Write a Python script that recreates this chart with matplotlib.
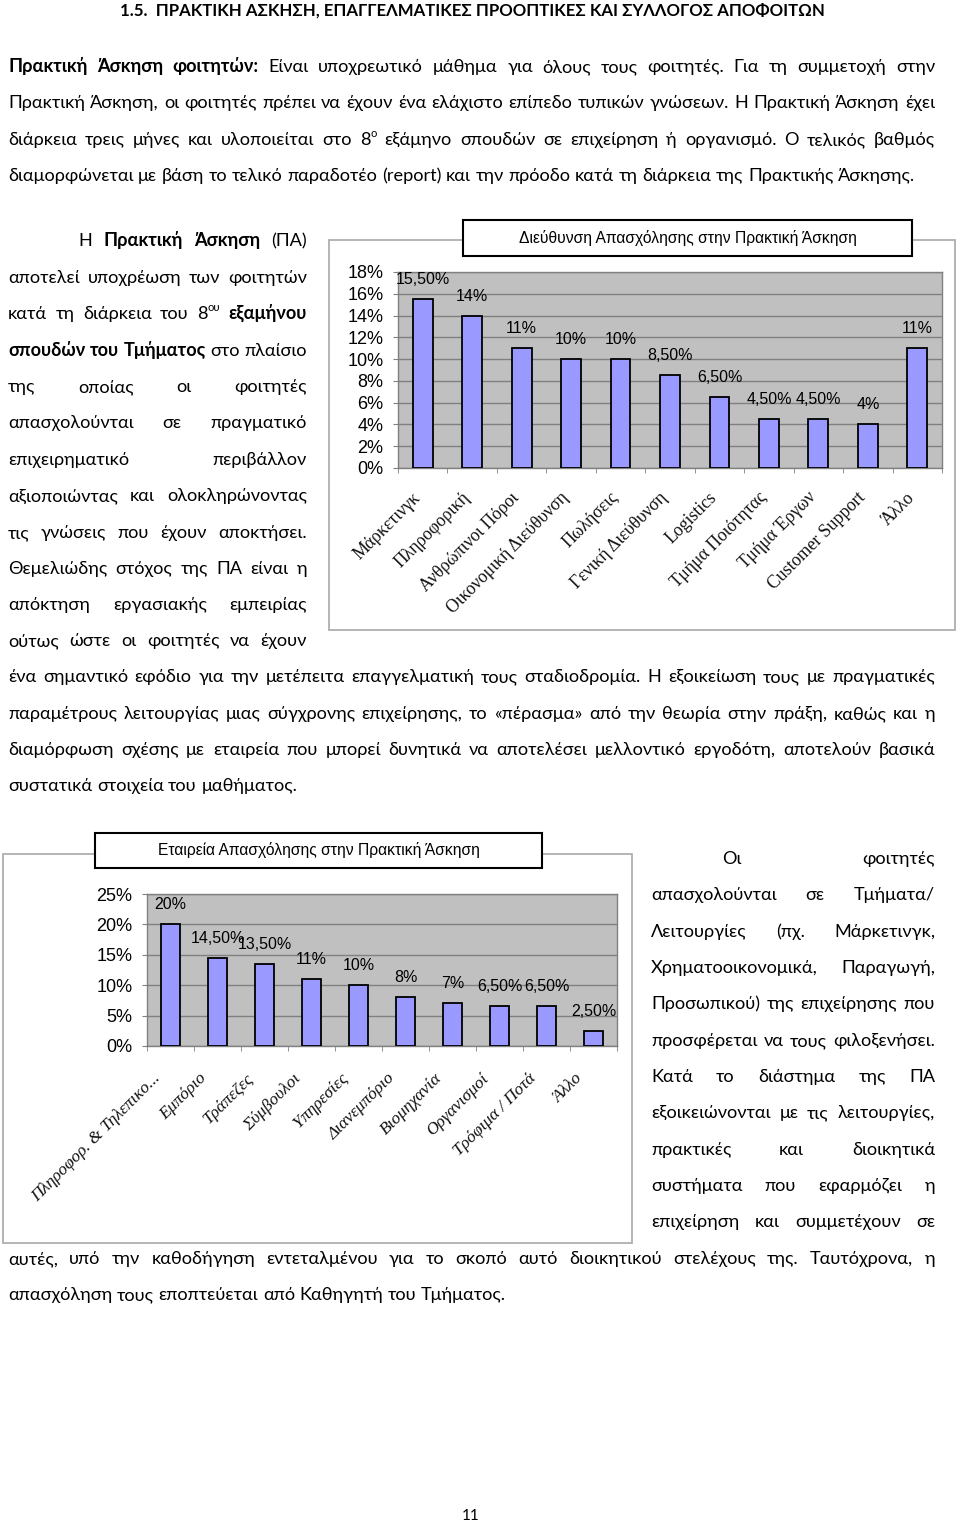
import re
import numpy as np
import matplotlib
matplotlib.use('Agg')
import matplotlib.pyplot as plt
from matplotlib.patches import Rectangle
from matplotlib import transforms, font_manager
from matplotlib.ft2font import FT2Font

W, H = 960, 1524

# -------------------
#    Chart data
# -------------------
dept_names = ['Μάρκετινγκ', 'Πληροφορική', 'Ανθρώπινοι Πόροι', 'Οικονομική Διεύθυνση',
              'Πωλήσεις', 'Γενική Διεύθυνση', 'Logistics', 'Τμήμα Ποιότητας',
              'Τμήμα Έργων', 'Customer Support', 'Άλλο']
dept_share = [15.5, 14, 11, 10, 10, 8.5, 6.5, 4.5, 4.5, 4, 11]
dept_title = 'Διεύθυνση Απασχόλησης στην Πρακτική Άσκηση'

company_names = ['Πληροφορ. & Τηλεπικο...', 'Εμπόριο', 'Τράπεζες', 'Σύμβουλοι',
                 'Υπηρεσίες', 'Διανεμπόριο', 'Βιομηχανία', 'Οργανισμοί',
                 'Τρόφιμα / Ποτά', 'Άλλο']
company_share = [20, 14.5, 13.5, 11, 10, 8, 7, 6.5, 6.5, 2.5]
company_title = 'Εταιρεία Απασχόλησης στην Πρακτική Άσκηση'

# -------------------
#    Page text
# -------------------
heading = '1.5.  ΠΡΑΚΤΙΚΗ ΑΣΚΗΣΗ, ΕΠΑΓΓΕΛΜΑΤΙΚΕΣ ΠΡΟΟΠΤΙΚΕΣ ΚΑΙ ΣΥΛΛΟΓΟΣ ΑΠΟΦΟΙΤΩΝ'

para1 = [
    '**Πρακτική Άσκηση φοιτητών:** Είναι υποχρεωτικό μάθημα για όλους τους φοιτητές. Για τη συμμετοχή στην',
    'Πρακτική Άσκηση, οι φοιτητές πρέπει να έχουν ένα ελάχιστο επίπεδο τυπικών γνώσεων. Η Πρακτική Άσκηση έχει',
    'διάρκεια τρεις μήνες και υλοποιείται στο 8^{ο} εξάμηνο σπουδών σε επιχείρηση ή οργανισμό. Ο τελικός βαθμός',
    'διαμορφώνεται με βάση το τελικό παραδοτέο (report) και την πρόοδο κατά τη διάρκεια της Πρακτικής Άσκησης.',
]

para2_left = [
    'Η **Πρακτική Άσκηση** (ΠΑ)',
    'αποτελεί υποχρέωση των φοιτητών',
    'κατά τη διάρκεια του 8^{ου} **εξαμήνου**',
    '**σπουδών του Τμήματος** στο πλαίσιο',
    'της οποίας οι φοιτητές',
    'απασχολούνται σε πραγματικό',
    'επιχειρηματικό περιβάλλον',
    'αξιοποιώντας και ολοκληρώνοντας',
    'τις γνώσεις που έχουν αποκτήσει.',
    'Θεμελιώδης στόχος της ΠΑ είναι η',
    'απόκτηση εργασιακής εμπειρίας',
    'ούτως ώστε οι φοιτητές να έχουν',
]
para2_full = [
    'ένα σημαντικό εφόδιο για την μετέπειτα επαγγελματική τους σταδιοδρομία. Η εξοικείωση τους με πραγματικές',
    'παραμέτρους λειτουργίας μιας σύγχρονης επιχείρησης, το «πέρασμα» από την θεωρία στην πράξη, καθώς και η',
    'διαμόρφωση σχέσης με εταιρεία που μπορεί δυνητικά να αποτελέσει μελλοντικό εργοδότη, αποτελούν βασικά',
    'συστατικά στοιχεία του μαθήματος.',
]

para3_right = [
    'Οι φοιτητές',
    'απασχολούνται σε Τμήματα/',
    'Λειτουργίες (πχ. Μάρκετινγκ,',
    'Χρηματοοικονομικά, Παραγωγή,',
    'Προσωπικού) της επιχείρησης που',
    'προσφέρεται να τους φιλοξενήσει.',
    'Κατά το διάστημα της ΠΑ',
    'εξοικειώνονται με τις λειτουργίες,',
    'πρακτικές και διοικητικά',
    'συστήματα που εφαρμόζει η',
    'επιχείρηση και συμμετέχουν σε',
]
para3_full = [
    'αυτές, υπό την καθοδήγηση εντεταλμένου για το σκοπό αυτό διοικητικού στελέχους της. Ταυτόχρονα, η',
    'απασχόληση τους εποπτεύεται από Καθηγητή του Τμήματος.',
]


# -------------------
#    Fonts
# -------------------
def has_greek(name):
    try:
        path = font_manager.findfont(name, fallback_to_default=False)
        return FT2Font(path).get_char_index(ord('λ')) != 0
    except Exception:
        return False

body_font = 'Lato' if has_greek('Lato') else 'Open Sans'
chart_font = 'Liberation Sans'
label_font = 'Liberation Serif'

fig = plt.figure(figsize=(W / 100, H / 100), dpi=100)
fig.patch.set_facecolor('white')
renderer = fig.canvas.get_renderer()


def text_width(txt, size, bold=False, family=None):
    t = fig.text(0, 0, txt, fontsize=size, fontweight='bold' if bold else 'normal',
                 family=family or body_font)
    w = t.get_window_extent(renderer).width
    t.remove()
    return w

# fit the body size so the last line of paragraph 1 is ~910 px wide
body_size = 10 * 910 / text_width(para1[3], 10)
head_size = 10 * 700 / text_width(heading, 10, bold=True)
space_w = text_width('a a', body_size) - text_width('aa', body_size)


def parse(line):
    words, cur, bold = [], [], False
    for seg in re.split(r'(\*\*)', line):
        if seg == '**':
            bold = not bold
            continue
        for i, p in enumerate(seg.split(' ')):
            if i > 0 and cur:
                words.append(cur)
                cur = []
            for j, sp in enumerate(re.split(r'\^\{(.*?)\}', p)):
                if sp:
                    cur.append((sp, bold, j % 2 == 1))
    if cur:
        words.append(cur)
    return words


def run_w(run):
    txt, bold, sup = run
    return text_width(txt, body_size * (0.62 if sup else 1), bold)


def draw_line(line, y, x0, x1, justify=True):
    words = parse(line)
    widths = [sum(run_w(r) for r in wd) for wd in words]
    if justify and len(words) > 1:
        gap = (x1 - x0 - sum(widths)) / (len(words) - 1)
    else:
        gap = space_w
    x = x0
    base = y + 6
    for wd, ww in zip(words, widths):
        xx = x
        for r in wd:
            txt, bold, sup = r
            size = body_size * (0.62 if sup else 1)
            yy = base - (8 if sup else 0)
            fig.text(xx / W, 1 - yy / H, txt, fontsize=size, family=body_font,
                     fontweight='bold' if bold else 'normal', va='baseline', ha='left')
            xx += run_w(r)
        x += ww + gap


def draw_block(lines, ys, x0, x1, first_indent=None, last_plain=False):
    for k, (ln, y) in enumerate(zip(lines, ys)):
        left = first_indent if (k == 0 and first_indent is not None) else x0
        just = not (last_plain and k == len(lines) - 1)
        draw_line(ln, y, left, x1, justify=just)


# heading
fig.text(472 / W, 1 - 16 / H, heading, fontsize=head_size, fontweight='bold',
         family=body_font, ha='center', va='baseline')

draw_block(para1, [66, 102, 139, 175], 8, 935, last_plain=True)
draw_block(para2_left, [240, 277, 313, 350, 386, 422, 459, 495, 532, 568, 604, 640],
           8, 307, first_indent=78)
draw_block(para2_full, [676, 713, 749, 785], 8, 935, last_plain=True)
draw_block(para3_right, [858, 894, 931, 967, 1003, 1040, 1076, 1112, 1149, 1185, 1221],
           651, 935, first_indent=722)
draw_block(para3_full, [1258, 1294], 8, 935, last_plain=True)

fig.text(471 / W, 1 - 1520 / H, '11', fontsize=body_size * 0.85, family=body_font,
         ha='center', va='baseline')


# -------------------
#    Charts
# -------------------
def fmt_pct(v):
    if float(v).is_integer():
        return f'{int(v)}%'
    return f'{v:.2f}%'.replace('.', ',')


def px_rect(l, t, r, b):
    return [l / W, 1 - b / H, (r - l) / W, (b - t) / H]


def draw_chart(plot, frame, tbox, title, title_w, names, shares, ymax, ystep,
               italic, dx, dy, lab_size):
    l, t, r, b = frame
    fig.add_artist(Rectangle((l / W, 1 - b / H), (r - l) / W, (b - t) / H,
                             transform=fig.transFigure, fill=False,
                             ec='#a8a8a8', lw=1.2, zorder=0))
    l, t, r, b = tbox
    fig.add_artist(Rectangle((l / W, 1 - b / H), (r - l) / W, (b - t) / H,
                             transform=fig.transFigure, fc='white',
                             ec='black', lw=1.5, zorder=1))
    tsize = 10 * title_w / text_width(title, 10, family=chart_font)
    fig.text((l + r) / 2 / W, 1 - (t + b) / 2 / H, title, fontsize=tsize,
             family=chart_font, ha='center', va='center', zorder=2)

    ax = fig.add_axes(px_rect(*plot))
    x = np.arange(len(names))
    ax.bar(x, shares, width=0.4, color='#9999ff', edgecolor='black', lw=1.3, zorder=3)
    ax.set_xlim(-0.5, len(names) - 0.5)
    ax.set_ylim(0, ymax)
    ax.set_facecolor('#c0c0c0')
    ax.set_axisbelow(True)
    ax.yaxis.grid(True, color='#808080', lw=1)
    for s in ax.spines.values():
        s.set_color('#808080')
        s.set_linewidth(1)

    yt = np.arange(0, ymax + ystep / 2, ystep)
    ax.set_yticks(yt)
    ax.set_yticklabels([f'{int(v)}%' for v in yt], family=chart_font, fontsize=13)
    ax.tick_params(axis='y', length=3.6, color='#808080', pad=7)

    ax.set_xticks(x)
    ax.set_xticklabels(names, rotation=45, ha='right', va='center',
                       rotation_mode='anchor', family=label_font, fontsize=lab_size,
                       style='italic' if italic else 'normal', color='#111111')
    ax.set_xticks(np.arange(-0.5, len(names)), minor=True)
    ax.tick_params(axis='x', which='major', length=0, pad=0)
    ax.tick_params(axis='x', which='minor', length=3.6, color='#808080')
    off = transforms.ScaledTranslation(dx / 100, -dy / 100, fig.dpi_scale_trans)
    for lbl in ax.get_xticklabels():
        lbl.set_transform(lbl.get_transform() + off)

    for xi, v in zip(x, shares):
        ax.annotate(fmt_pct(v), (xi, v), xytext=(0, 12), textcoords='offset pixels',
                    ha='center', va='bottom', family=chart_font, fontsize=11.5,
                    zorder=4, annotation_clip=False)


draw_chart(plot=(398, 272, 942, 468), frame=(329, 240, 955, 630),
           tbox=(463, 220, 912, 256), title=dept_title, title_w=338,
           names=dept_names, shares=dept_share, ymax=18, ystep=2,
           italic=False, dx=-5, dy=27, lab_size=12.8)

draw_chart(plot=(147, 894, 617, 1046), frame=(3, 854, 632, 1243),
           tbox=(95, 833, 542, 868), title=company_title, title_w=322,
           names=company_names, shares=company_share, ymax=25, ystep=5,
           italic=True, dx=-13, dy=30, lab_size=12.5)

fig.savefig('out.png', dpi=100, facecolor='white')
